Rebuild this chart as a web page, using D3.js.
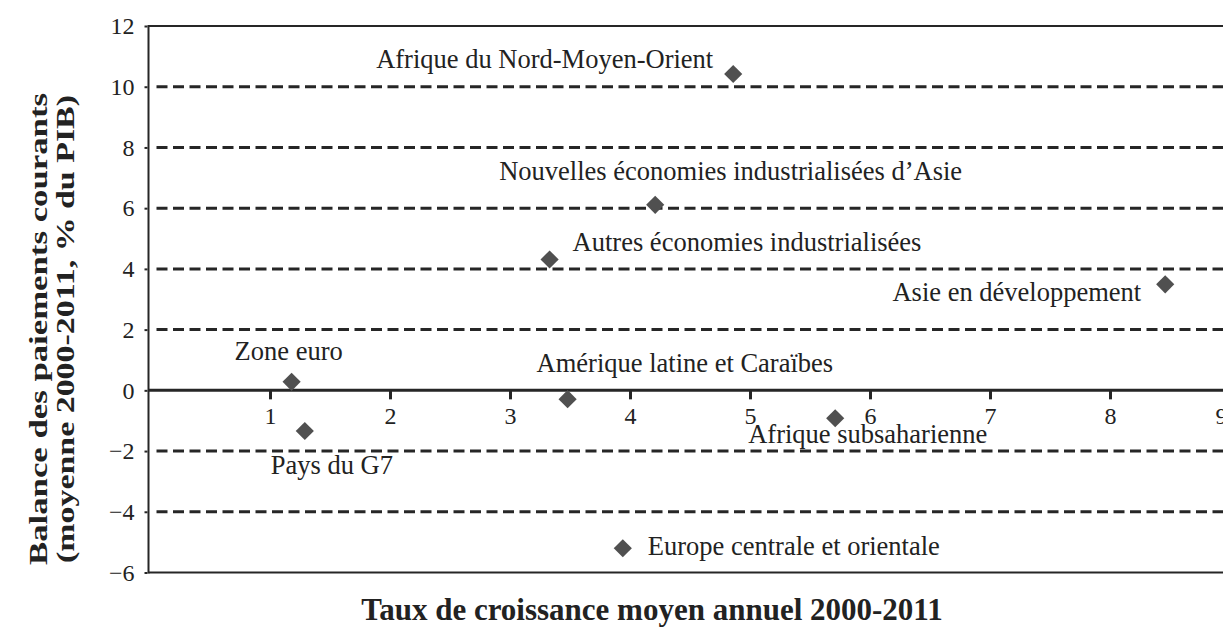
<!DOCTYPE html>
<html>
<head>
<meta charset="utf-8">
<script src="https://cdn.jsdelivr.net/npm/d3@7"></script>
<style>
  html, body { margin: 0; padding: 0; background: #fff; }
  svg { display: block; }
  text { font-family: "Liberation Serif", "Times New Roman", serif; fill: #222; }
</style>
</head>
<body>
<svg id="chart" width="1223" height="628"></svg>
<script>
// ---- data ----
const regions = [
  "Afrique du Nord-Moyen-Orient",
  "Nouvelles économies industrialisées d’Asie",
  "Autres économies industrialisées",
  "Asie en développement",
  "Zone euro",
  "Pays du G7",
  "Amérique latine et Caraïbes",
  "Afrique subsaharienne",
  "Europe centrale et orientale"
];
const growth  = [4.86, 4.21, 3.33, 8.46, 1.18, 1.29, 3.48, 5.71, 3.94];
const balance = [10.42, 6.11, 4.31, 3.49, 0.28, -1.34, -0.29, -0.92, -5.20];
const xTicks = [1, 2, 3, 4, 5, 6, 7, 8, 9];
const yTicks = [-6, -4, -2, 0, 2, 4, 6, 8, 10, 12];
const dashedLevels = [-4, -2, 2, 4, 6, 8, 10];
const xTitle = "Taux de croissance moyen annuel 2000-2011";
const yTitle = ["Balance des paiements courants", "(moyenne 2000-2011, % du PIB)"];

// ---- layout (label placement relative to each point) ----
const labelLayout = [
  { anchor: "end",   dx: -20, dy: -6 },
  { anchor: "start", dx: -156, dy: -25 },
  { anchor: "start", dx: 23,  dy: -8 },
  { anchor: "end",   dx: -24, dy: 17 },
  { anchor: "start", dx: -57, dy: -22 },
  { anchor: "start", dx: -34, dy: 43 },
  { anchor: "start", dx: -31, dy: -27 },
  { anchor: "start", dx: -87, dy: 25 },
  { anchor: "start", dx: 25,  dy: 7 }
];

const svg = d3.select("#chart");
const W = 1223, H = 628;
const plotLeft = 148.5, plotTop = 26, plotBottom = 572.5;

const x = d3.scaleLinear().domain([0, 9]).range([150, 1230]);
const y = d3.scaleLinear().domain([-6, 12]).range([plotBottom, plotTop]);

const lineColor = "#262626";

// dashed gridlines
svg.append("g").selectAll("line").data(dashedLevels).join("line")
  .attr("x1", plotLeft + 8).attr("x2", W)
  .attr("y1", d => y(d)).attr("y2", d => y(d))
  .attr("stroke", lineColor).attr("stroke-width", 3)
  .attr("stroke-dasharray", "11,5.5");

// frame: top, left, bottom
svg.append("line").attr("x1", plotLeft).attr("x2", W).attr("y1", y(12)).attr("y2", y(12))
  .attr("stroke", lineColor).attr("stroke-width", 2);
svg.append("line").attr("x1", plotLeft).attr("x2", W).attr("y1", y(-6)).attr("y2", y(-6))
  .attr("stroke", lineColor).attr("stroke-width", 2);
svg.append("line").attr("x1", plotLeft).attr("x2", plotLeft).attr("y1", y(12) - 1).attr("y2", y(-6) + 1)
  .attr("stroke", lineColor).attr("stroke-width", 2);

// y axis labels
const yAxis = d3.axisLeft(y).tickValues(yTicks).tickSize(3).tickPadding(10)
  .tickFormat(d => d < 0 ? "\u2212" + Math.abs(d) : String(d));
const gy = svg.append("g").attr("transform", `translate(${plotLeft - 1},0)`).call(yAxis);
gy.select(".domain").remove();
gy.selectAll(".tick line").attr("stroke", lineColor).attr("stroke-width", 2);
gy.selectAll(".tick text").attr("font-size", 24).attr("font-family", "Liberation Serif").attr("fill", "#222");

// x axis at zero
const xAxis = d3.axisBottom(x).tickValues(xTicks).tickSize(9).tickPadding(8).tickFormat(d3.format("d"));
const gx = svg.append("g").attr("transform", `translate(0,${y(0)})`).call(xAxis);
gx.select(".domain").attr("d", `M${plotLeft},0H${W}`).attr("stroke", lineColor).attr("stroke-width", 3);
gx.selectAll(".tick line").attr("stroke", lineColor).attr("stroke-width", 3);
gx.selectAll(".tick text").attr("font-size", 24).attr("font-family", "Liberation Serif").attr("fill", "#222");
gx.selectAll(".tick text").filter(d => d === 9).attr("dx", -9);

// points
const pts = regions.map((r, i) => ({ name: r, gx: growth[i], b: balance[i], lay: labelLayout[i] }));
const sq = d3.symbol().type(d3.symbolSquare).size(165);
svg.append("g").selectAll("path").data(pts).join("path")
  .attr("d", sq)
  .attr("transform", d => `translate(${x(d.gx)},${y(d.b)}) rotate(45)`)
  .attr("fill", "#505050");

// labels
svg.append("g").selectAll("text").data(pts).join("text")
  .attr("x", d => x(d.gx) + d.lay.dx)
  .attr("y", d => y(d.b) + d.lay.dy)
  .attr("text-anchor", d => d.lay.anchor)
  .attr("font-size", 26.5)
  .text(d => d.name);

// axis titles
svg.append("text")
  .attr("x", 652).attr("y", 620)
  .attr("text-anchor", "middle")
  .attr("font-size", 31).attr("font-weight", "bold")
  .text(xTitle);

const yt = svg.append("g").attr("transform", "translate(0,329) rotate(-90)");
yt.selectAll("text").data(yTitle).join("text")
  .attr("x", 0)
  .attr("y", (d, i) => 47 + i * 27)
  .attr("text-anchor", "middle")
  .attr("font-size", 25).attr("font-weight", "bold")
  .attr("textLength", (d, i) => i === 0 ? 472 : 468)
  .attr("lengthAdjust", "spacingAndGlyphs")
  .text(d => d);
</script>
</body>
</html>
